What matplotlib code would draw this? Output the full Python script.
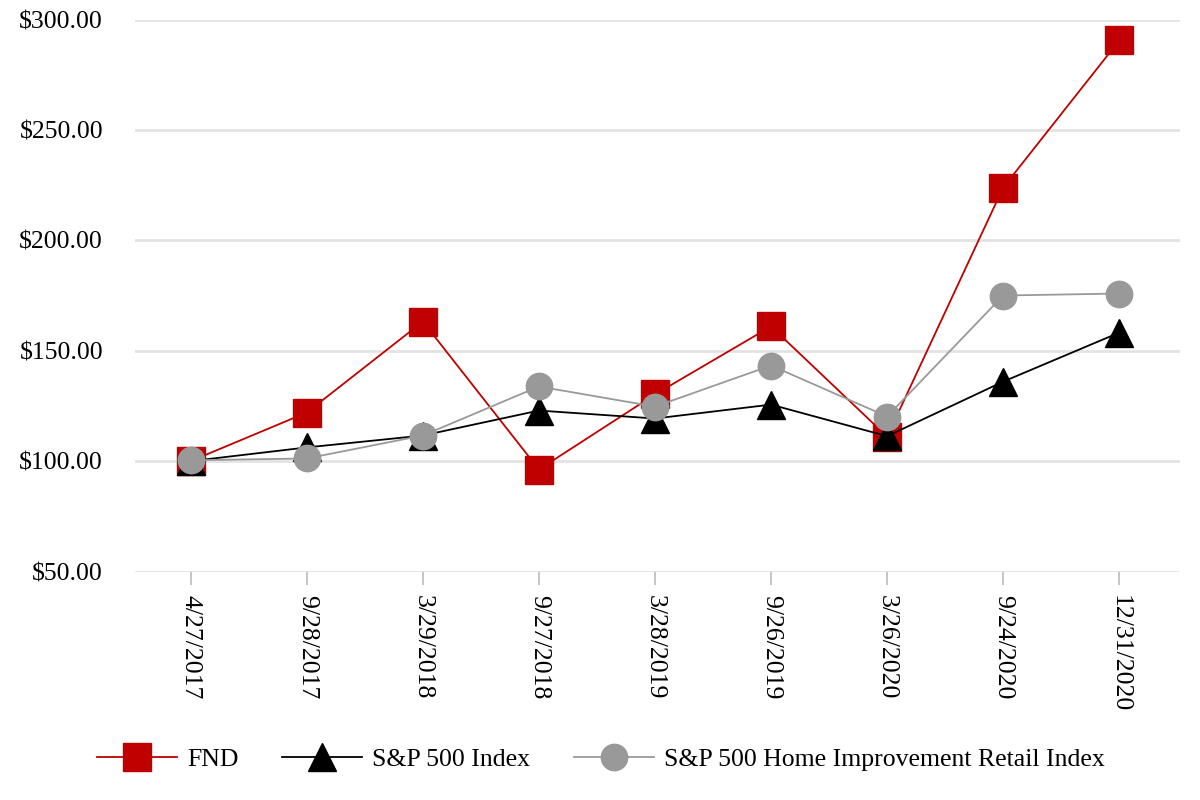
import matplotlib
matplotlib.use("Agg")
import matplotlib.pyplot as plt
from matplotlib.ticker import FuncFormatter

dates = ["4/27/2017", "9/28/2017", "3/29/2018", "9/27/2018", "3/28/2019",
         "9/26/2019", "3/26/2020", "9/24/2020", "12/31/2020"]
fnd = [100.0, 122.0, 163.2, 96.2, 130.2, 161.0, 111.1, 223.9, 290.5]
sp500 = [100.0, 106.2, 111.6, 122.9, 119.3, 125.6, 111.3, 136.0, 158.2]
home_impr = [100.4, 101.2, 111.6, 133.8, 124.7, 143.3, 120.2, 175.0, 175.9]

plt.rcParams['font.family'] = ['Liberation Serif', 'DejaVu Serif']

fig = plt.figure(figsize=(12, 8), dpi=100)
ax = fig.add_axes([0.1125, 0.2856, 0.8705, 0.69])

x = list(range(len(dates)))
ax.plot(x, fnd, color="#C00000", lw=1.3, marker="s", ms=20, mec="#C00000",
        mfc="#C00000", label="FND", zorder=3)
ax.plot(x, sp500, color="#000000", lw=1.3, marker="^", ms=20, mec="#000000",
        mfc="#000000", label="S&P 500 Index", zorder=4)
ax.plot(x, home_impr, color="#999999", lw=1.3, marker="o", ms=19, mec="#999999",
        mfc="#999999", label="S&P 500 Home Improvement Retail Index", zorder=5)

ax.set_ylim(50, 300)
ax.set_xlim(-0.48, 8.52)
ax.set_yticks([50, 100, 150, 200, 250, 300])
ax.yaxis.set_major_formatter(FuncFormatter(lambda v, p: f"${v:,.2f}"))
ax.set_xticks(x)
ax.set_xticklabels(dates, rotation=-90)
ax.grid(axis="y", color="#E3E3E3", lw=2)
ax.set_axisbelow(True)
for s in ax.spines.values():
    s.set_visible(False)
ax.tick_params(axis="y", length=0, labelsize=18.5, pad=23)
ax.tick_params(axis="x", length=9, width=1.2, color="#BBBBBB", labelsize=18.5, pad=8)

leg = ax.legend(loc="center", bbox_to_anchor=(0.446, -0.341), ncol=3,
                frameon=False, fontsize=18.5, handlelength=3.1, columnspacing=1.7,
                handletextpad=0.4, markerscale=1.0)

fig.savefig("out.png", dpi=100, facecolor="white")
